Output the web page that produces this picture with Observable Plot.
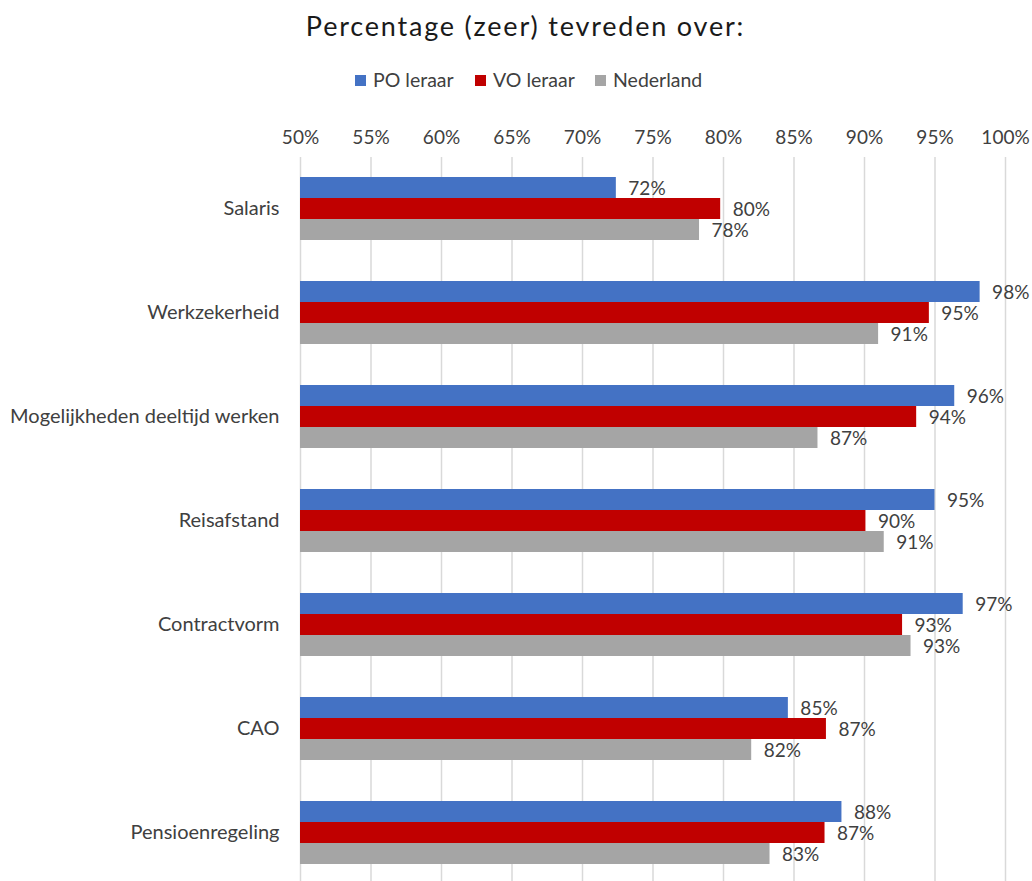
<!DOCTYPE html>
<html><head><meta charset="utf-8">
<script src="https://cdn.jsdelivr.net/npm/d3@7"></script>
<script src="https://cdn.jsdelivr.net/npm/@observablehq/plot@0.6"></script>
<style>
body{margin:0;background:#fff;font-family:Lato,"Open Sans",sans-serif;width:1032px;height:881px;overflow:hidden;position:relative}
#title{position:absolute;top:0;left:0;width:1051px;text-align:center;font-size:27px;letter-spacing:1.8px;line-height:52px;color:#1a1a1a}
#legend{position:absolute;top:68px;left:355px;display:flex;font-size:19.5px;color:#404040;line-height:24px}
.item{display:flex;align-items:center;width:120px;white-space:nowrap}
.sw{width:11px;height:11px;margin-right:7px;flex:none}
#chart{position:absolute;top:110px;left:0}
</style></head>
<body>
<div id="title">Percentage (zeer) tevreden over:</div>
<div id="legend"></div>
<div id="chart"></div>
<script>
const categories = ["Salaris","Werkzekerheid","Mogelijkheden deeltijd werken","Reisafstand","Contractvorm","CAO","Pensioenregeling"];
const series = ["PO leraar","VO leraar","Nederland"];
const poValues = [72.4, 98.2, 96.4, 95.0, 97.0, 84.6, 88.4];
const voValues = [79.8, 94.6, 93.7, 90.1, 92.7, 87.3, 87.2];
const nlValues = [78.3, 91.0, 86.7, 91.4, 93.3, 82.0, 83.3];
const colors = ["#4472C4","#C00000","#A5A5A5"];
const xTicks = [50,55,60,65,70,75,80,85,90,95,100];

const valuesBySeries = [poValues, voValues, nlValues];
const rows = [];
categories.forEach((c,i) => series.forEach((s,j) => rows.push({category:c, series:s, value:valuesBySeries[j][i]})));

const legend = document.getElementById("legend");
series.forEach((s,j) => {
  const it = document.createElement("div"); it.className = "item";
  const sw = document.createElement("div"); sw.className = "sw"; sw.style.background = colors[j];
  const t = document.createElement("span"); t.textContent = s;
  it.appendChild(sw); it.appendChild(t); legend.appendChild(it);
});

const barH = 21;
const seriesMarks = series.flatMap((s, j) => {
  const data = rows.filter(r => r.series === s);
  return [
    Plot.barX(data, {x1: 50, x2: "value", y: "category", fill: colors[j], insetTop: barH * j, insetBottom: barH * (2 - j)}),
    Plot.text(data, {x: "value", y: "category", text: d => Math.round(d.value) + "%", dx: 12, dy: barH * (j - 1) + 1, textAnchor: "start", fill: "#404040"})
  ];
});

const chart = Plot.plot({
  width: 1032, height: 775,
  marginTop: 47, marginBottom: 0, marginLeft: 300, marginRight: 27,
  style: {fontFamily: "Lato, 'Open Sans', sans-serif", fontSize: "19px", color: "#404040", background: "#fff"},
  x: {domain: [50, 100], axis: null},
  y: {domain: categories, paddingInner: 0.394, paddingOuter: 0.197, axis: null},
  marks: [
    Plot.ruleX(xTicks, {x: d => d, stroke: "#d9d9d9", strokeWidth: 1.5}),
    Plot.text(xTicks, {x: d => d, text: d => d + "%", frameAnchor: "top", dy: -27, fill: "#404040"}),
    Plot.text(categories, {y: d => d, text: d => d, frameAnchor: "left", dx: -21, textAnchor: "end", fontSize: 20, fill: "#404040"}),
    ...seriesMarks
  ]
});
document.getElementById("chart").appendChild(chart);
</script>
</body></html>
